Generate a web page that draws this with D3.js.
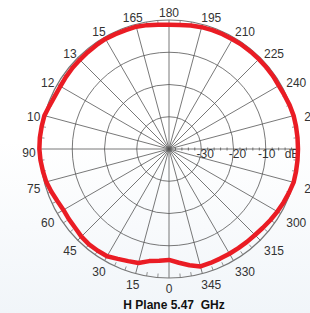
<!DOCTYPE html>
<html>
<head>
<meta charset="utf-8">
<script src="https://cdn.jsdelivr.net/npm/d3@7"></script>
<style>
  body { margin: 0; background: #fff; }
  svg { display: block; font-family: "Liberation Sans", Arial, sans-serif; }
</style>
</head>
<body>
<div id="chart"></div>
<script>
// angle in degrees, 0 at bottom, going clockwise on screen (90 left, 180 top, 270 right)
const angles = d3.range(0, 360, 5);
// gain in dB
const gain = [
  -5.6, -5.2, -4.7, -3.4, -3.0, -2.4,   // 0..25
  -1.6, -1.5, -1.4, -1.6, -2.0, -2.1,   // 30..55
  -2.2, -1.8, -1.2, -0.6, -0.3, 0.0,    // 60..85
  0.2, 0.2, 0.1, 0.0, -0.6, -1.0,       // 90..115
  -1.1, -1.0, -0.9, -0.9, -0.8, -0.7,   // 120..145
  -0.6, -0.7, -0.8, -0.75, -1.0, -1.3,  // 150..175
  -1.5, -1.4, -1.1, -0.9, -0.8, -0.7,   // 180..205
  -0.7, -0.6, -0.6, -0.6, -0.6, -0.6,   // 210..235
  -0.7, -0.5, -0.2, 0.0, 0.0, 0.0,      // 240..265
  0.0, 0.0, 0.0, 0.0, -0.4, -0.8,       // 270..295
  -1.2, -1.6, -2.0, -2.3, -2.4, -2.5,   // 300..325
  -2.5, -2.5, -2.4, -2.3, -3.4, -4.6    // 330..355
];
const tickAngles = d3.range(0, 360, 15);
const angleLabels = ["0", "15", "30", "45", "60", "75", "90", "10", "12", "13", "15", "165",
  "180", "195", "210", "225", "240", "255", "", "285", "300", "315", "330", "345"];
const rings = [-30, -20, -10, 0];
const ringLabels = ["-30", "-20", "-10", "dB"];
const title = "H Plane 5.47\u00a0 GHz";

const width = 310, height = 313;
const cx = 169, cy = 149, R = 129;

const svg = d3.select('#chart').append('svg')
  .attr('width', width)
  .attr('height', height);

// faint bluish wash in the lower part of the picture
const defs = svg.append('defs');
const grad = defs.append('linearGradient')
  .attr('id', 'bg').attr('x1', 0).attr('y1', 0).attr('x2', 0).attr('y2', 1);
grad.append('stop').attr('offset', '0.45').attr('stop-color', '#ffffff');
grad.append('stop').attr('offset', '1').attr('stop-color', '#f1f5f9');
svg.append('rect')
  .attr('width', width).attr('height', height)
  .attr('fill', 'url(#bg)');

const r = d3.scaleLinear().domain([-40, 0]).range([0, R]);
const rad = (a) => a * Math.PI / 180;
// screen position for angle (deg) and radius
const px = (a, rr) => cx - rr * Math.sin(rad(a));
const py = (a, rr) => cy + rr * Math.cos(rad(a));

const g = svg.append('g');

// rings
g.selectAll('circle.ring')
  .data(rings.slice(0, -1))
  .enter().append('circle')
  .attr('cx', cx).attr('cy', cy)
  .attr('r', d => r(d))
  .attr('fill', 'none')
  .attr('stroke', '#555')
  .attr('stroke-width', 0.8);

// spokes
g.selectAll('line.spoke')
  .data(tickAngles)
  .enter().append('line')
  .attr('x1', cx).attr('y1', cy)
  .attr('x2', d => px(d, R)).attr('y2', d => py(d, R))
  .attr('stroke', '#555')
  .attr('stroke-width', 0.8);

// outer circle
g.append('circle')
  .attr('cx', cx).attr('cy', cy).attr('r', R)
  .attr('fill', 'none')
  .attr('stroke', '#777')
  .attr('stroke-width', 1.2);

// small ticks on the outer circle
g.selectAll('line.otick')
  .data(d3.range(0, 360, 5).filter(a => a % 15 !== 0))
  .enter().append('line')
  .attr('x1', d => px(d, R)).attr('y1', d => py(d, R))
  .attr('x2', d => px(d, R - 4)).attr('y2', d => py(d, R - 4))
  .attr('stroke', '#777')
  .attr('stroke-width', 0.8);

// minor ticks along the dB axis
g.selectAll('line.atick')
  .data(d3.range(-38, 0, 2).filter(v => v % 10 !== 0))
  .enter().append('line')
  .attr('x1', d => cx + r(d)).attr('x2', d => cx + r(d))
  .attr('y1', cy - 1.5).attr('y2', cy + 1.5)
  .attr('stroke', '#555')
  .attr('stroke-width', 0.8);

// ring labels, the last one ("dB") pulled in so the trace crosses it
const ringDx = (i) => i === rings.length - 1 ? -6 : (i === rings.length - 2 ? 1 : 4);
g.selectAll('text.rl')
  .data(rings)
  .enter().append('text')
  .attr('x', (d, i) => cx + r(d) + ringDx(i))
  .attr('y', cy + 9)
  .attr('text-anchor', 'middle')
  .attr('font-size', 12)
  .attr('fill', '#333')
  .text((d, i) => ringLabels[i]);

// angle labels
const labelDx = (a) => {
  const s = Math.sin(rad(a));
  if (s < -0.9) return 10;
  return s < -0.2 ? 6 : 0;
};
const labelDy = (a) => 4 - 4 * Math.pow(Math.max(0, Math.cos(rad(a))), 4);

g.selectAll('text.al')
  .data(tickAngles)
  .enter().append('text')
  .attr('x', d => px(d, 140) + labelDx(d))
  .attr('y', d => py(d, 140) + labelDy(d))
  .attr('dy', '0.35em')
  .attr('text-anchor', 'middle')
  .attr('font-size', 12)
  .attr('fill', '#333')
  .text((d, i) => angleLabels[i]);

// the trace
const line = d3.lineRadial()
  .angle(d => rad(d.a + 180))
  .radius(d => r(d.v))
  .curve(d3.curveLinearClosed);

g.append('path')
  .datum(angles.map((a, i) => ({ a, v: gain[i] })))
  .attr('transform', `translate(${cx},${cy})`)
  .attr('d', line)
  .attr('fill', 'none')
  .attr('stroke', '#ea1c24')
  .attr('stroke-width', 4.5)
  .attr('stroke-linejoin', 'round');

// title
svg.append('text')
  .attr('x', 174)
  .attr('y', 309)
  .attr('text-anchor', 'middle')
  .attr('font-size', 12)
  .attr('font-weight', 'bold')
  .attr('fill', '#111')
  .text(title);
</script>
</body>
</html>
